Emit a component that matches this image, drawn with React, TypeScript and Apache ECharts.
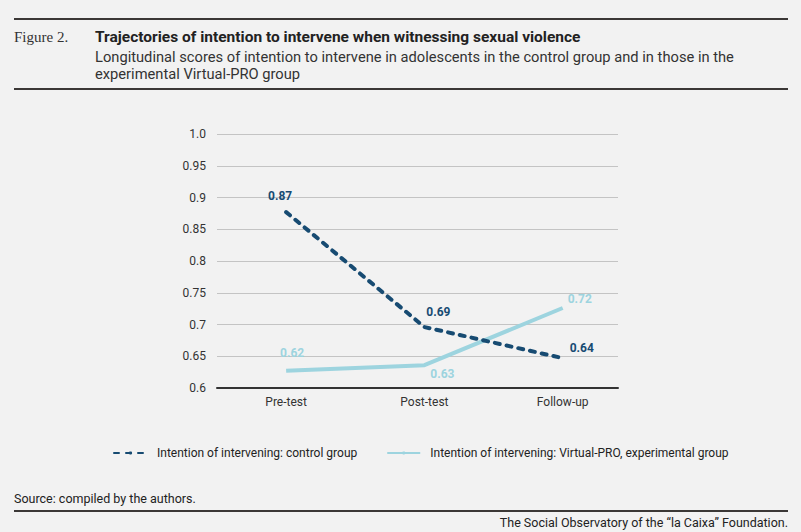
import React, { useEffect, useRef } from "react";
import * as echarts from "echarts";

const categories = ["Pre-test", "Post-test", "Follow-up"];
const controlValues = [0.877, 0.696, 0.647];
const controlLabels = ["0.87", "0.69", "0.64"];
const experimentalValues = [0.627, 0.636, 0.726];
const experimentalLabels = ["0.62", "0.63", "0.72"];
const yTickLabels: Record<string, string> = {
  "0.6": "0.6",
  "0.65": "0.65",
  "0.7": "0.7",
  "0.75": "0.75",
  "0.8": "0.8",
  "0.85": "0.85",
  "0.9": "0.9",
  "0.95": "0.95",
  "1": "1.0",
};
const seriesNames = [
  "Intention of intervening: control group",
  "Intention of intervening: Virtual-PRO, experimental group",
];

const FONT = "Roboto, 'Noto Sans', sans-serif";
const DARK = "#174b72";
const LIGHT = "#9dd4df";
const RULE = "#3b3836";

export default function App() {
  const ref = useRef<HTMLDivElement>(null);
  useEffect(() => {
    document.body.style.margin = "0";
    const chart = echarts.init(ref.current!, undefined, { renderer: "svg" });
    const controlOffsets = [[-6, -16], [14, -15], [19, -10]];
    const expOffsets = [[6, -18], [18, 9], [17, -9]];
    chart.setOption({
      animation: false,
      backgroundColor: "#f2f2f2",
      textStyle: { fontFamily: FONT },
      grid: { left: 217, right: 183, top: 134, bottom: 144 },
      xAxis: {
        type: "value",
        min: -0.5,
        max: 2.4,
        splitLine: { show: false },
        axisLine: { show: true, lineStyle: { color: "#333", width: 2 } },
        axisTick: { show: false },
        axisLabel: {
          customValues: [0, 1, 2],
          formatter: (v: number) => categories[Math.round(v)] ?? "",
          color: "#333",
          fontSize: 12,
          fontFamily: FONT,
          margin: 8,
        },
      },
      yAxis: {
        type: "value",
        min: 0.6,
        max: 1.0,
        interval: 0.05,
        axisLine: { show: false },
        axisTick: { show: false },
        splitLine: { lineStyle: { color: "#c4c4c4", width: 1 } },
        axisLabel: {
          formatter: (v: number) => yTickLabels[String(Math.round(v * 100) / 100)] ?? "",
          color: "#333",
          fontSize: 12,
          fontFamily: FONT,
          margin: 11,
        },
      },
      legend: {
        left: 108,
        top: 442,
        itemWidth: 33,
        itemHeight: 4,
        itemGap: 29,
        textStyle: { color: "#222", fontSize: 12, fontFamily: FONT, padding: [0, 0, 0, 5] },
        data: seriesNames,
      },
      series: [
        {
          name: seriesNames[0],
          type: "line",
          data: controlValues.map((v, i) => ({
            value: [i, v],
            label: { offset: controlOffsets[i] },
          })),
          symbol: "circle",
          symbolSize: 0.1,
          itemStyle: { color: DARK },
          lineStyle: { color: DARK, width: 4, type: [5, 7], cap: "round" },
          label: {
            show: true,
            position: "inside",
            formatter: (p: any) => controlLabels[p.dataIndex],
            color: DARK,
            fontWeight: "bold",
            fontSize: 12,
            fontFamily: FONT,
          },
          z: 3,
        },
        {
          name: seriesNames[1],
          type: "line",
          data: experimentalValues.map((v, i) => ({
            value: [i, v],
            label: { offset: expOffsets[i] },
          })),
          symbol: "circle",
          symbolSize: 0.1,
          itemStyle: { color: LIGHT },
          lineStyle: { color: LIGHT, width: 4 },
          label: {
            show: true,
            position: "inside",
            formatter: (p: any) => experimentalLabels[p.dataIndex],
            color: LIGHT,
            fontWeight: "bold",
            fontSize: 12,
            fontFamily: FONT,
          },
          z: 2,
        },
      ],
      graphic: [
        { type: "rect", shape: { x: 14, y: 18, width: 774, height: 2 }, style: { fill: RULE } },
        { type: "rect", shape: { x: 14, y: 88, width: 774, height: 2 }, style: { fill: RULE } },
        { type: "rect", shape: { x: 14, y: 510, width: 774, height: 2 }, style: { fill: RULE } },
        {
          type: "text",
          x: 14,
          y: 37,
          style: { text: "Figure 2.", font: "15px 'Liberation Serif', serif", fill: "#333", verticalAlign: "middle" },
        },
        {
          type: "text",
          x: 95,
          y: 37,
          style: {
            text: "Trajectories of intention to intervene when witnessing sexual violence",
            font: "bold 15.5px " + FONT,
            fill: "#222",
            verticalAlign: "middle",
          },
        },
        {
          type: "text",
          x: 95,
          y: 57,
          style: {
            text: "Longitudinal scores of intention to intervene in adolescents in the control group and in those in the",
            font: "14.7px " + FONT,
            fill: "#333",
            verticalAlign: "middle",
          },
        },
        {
          type: "text",
          x: 95,
          y: 74,
          style: { text: "experimental Virtual-PRO group", font: "14.7px " + FONT, fill: "#333", verticalAlign: "middle" },
        },
        {
          type: "text",
          x: 14,
          y: 498,
          style: { text: "Source: compiled by the authors.", font: "12.5px " + FONT, fill: "#222", verticalAlign: "middle" },
        },
        {
          type: "text",
          x: 788,
          y: 522,
          style: {
            text: "The Social Observatory of the “la Caixa” Foundation.",
            font: "12.5px " + FONT,
            fill: "#222",
            align: "right",
            verticalAlign: "middle",
          },
        },
      ],
    });
    return () => chart.dispose();
  }, []);
  return <div ref={ref} style={{ position: "fixed", left: 0, top: 0, width: 801, height: 532 }} />;
}
